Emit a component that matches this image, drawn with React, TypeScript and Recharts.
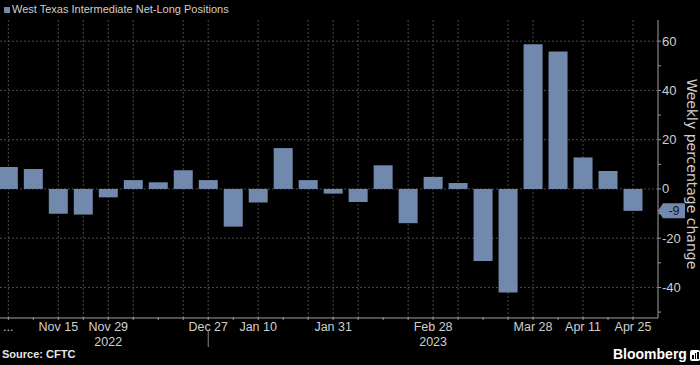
import React from 'react';
import { BarChart, Bar, XAxis, YAxis, CartesianGrid, ReferenceLine } from 'recharts';

const weeks = ['Nov 1','Nov 8','Nov 15','Nov 22','Nov 29','Dec 6','Dec 13','Dec 20','Dec 27','Jan 3','Jan 10','Jan 17','Jan 24','Jan 31','Feb 7','Feb 14','Feb 21','Feb 28','Mar 7','Mar 14','Mar 21','Mar 28','Apr 4','Apr 11','Apr 18','Apr 25'];
const values = [8.9, 8.1, -10.1, -10.4, -3.4, 3.6, 2.7, 7.6, 3.6, -15.3, -5.5, 16.6, 3.6, -1.9, -5.3, 9.6, -13.9, 4.9, 2.4, -29.3, -42.0, 58.8, 55.8, 12.8, 7.3, -8.9];
const tickIndex = [0, 2, 4, 8, 10, 13, 17, 21, 23, 25];
const tickText = ['...', 'Nov 15', 'Nov 29', 'Dec 27', 'Jan 10', 'Jan 31', 'Feb 28', 'Mar 28', 'Apr 11', 'Apr 25'];
const yearIndex = [4, 17];
const yearText = ['2022', '2023'];
const yearBreakIndex = 8;
const gridIndex = [0, 2, 3, 4, 5, 7, 8, 10, 12, 13, 14, 16, 17, 18, 20, 21, 23, 25];
const yTicks = [-50, -40, -30, -20, -10, 0, 10, 20, 30, 40, 50, 60];
const yGrid = [-40, -20, 0, 20, 40, 60];
const lastLabel = '-9';

const data = values.map((v, i) => ({ i, week: weeks[i], v }));
const allTicks = weeks.map((_, i) => i);

const BAR = '#7189ad';
const TXT = '#cfcfcf';
const FONT = '"Liberation Sans", Arial, sans-serif';

const XTick = (props: any) => {
  const { x, y, payload } = props;
  const idx = payload.value;
  const k = tickIndex.indexOf(idx);
  const yk = yearIndex.indexOf(idx);
  return (
    <g>
      <line x1={x} x2={x} y1={y - 1} y2={y + 2} stroke="#9a9a9a" strokeWidth={1} />
      {k >= 0 && (
        <text x={x} y={y + 13} textAnchor="middle" fill={TXT} fontSize={12.5} fontFamily={FONT}>
          {tickText[k]}
        </text>
      )}
      {yk >= 0 && (
        <text x={x} y={y + 28} textAnchor="middle" fill={TXT} fontSize={12.5} fontFamily={FONT}>
          {yearText[yk]}
        </text>
      )}
      {idx === yearBreakIndex && (
        <line x1={x} x2={x} y1={y + 12} y2={y + 29} stroke="#8a8a8a" strokeWidth={1} />
      )}
    </g>
  );
};

const YTick = (props: any) => {
  const { x, y, payload } = props;
  const v = payload.value;
  const major = v % 20 === 0;
  return (
    <g>
      <line x1={x} x2={x + 3} y1={y} y2={y} stroke="#9a9a9a" strokeWidth={1} />
      {major && (
        <text x={x + 4} y={y + 4.5} textAnchor="start" fill={TXT} fontSize={13} fontFamily={FONT}>
          {v}
        </text>
      )}
    </g>
  );
};

const TagLabel = (props: any) => {
  const vb = props.viewBox || {};
  const x0 = (vb.x || 0) + (vb.width || 0);
  const y0 = vb.y || 0;
  return (
    <g>
      <polygon
        points={`${x0},${y0} ${x0 + 5},${y0 - 7.5} ${x0 + 27},${y0 - 7.5} ${x0 + 27},${y0 + 7.5} ${x0 + 5},${y0 + 7.5}`}
        fill={BAR}
      />
      <text x={x0 + 16} y={y0 + 4.5} textAnchor="middle" fill="#111722" fontSize={12.5} fontFamily={FONT}>
        {lastLabel}
      </text>
    </g>
  );
};

export default function App() {
  return (
    <div style={{ position: 'fixed', left: 0, top: 0, width: 700, height: 365, background: '#000', overflow: 'hidden', fontFamily: FONT }}>
      <BarChart width={700} height={365} data={data} margin={{ top: 20, right: 0, bottom: 17, left: 0 }}>
        <CartesianGrid
          stroke="#4a4a4a"
          strokeDasharray="2 2"
          verticalValues={gridIndex}
          horizontalValues={yGrid}
        />
        <XAxis
          dataKey="i"
          type="number"
          domain={[-1 / 3, 26]}
          allowDataOverflow
          ticks={allTicks}
          interval={0}
          tick={<XTick />}
          tickLine={false}
          tickSize={0}
          tickMargin={0}
          axisLine={{ stroke: '#a0a0a0' }}
          height={30}
        />
        <YAxis
          orientation="right"
          type="number"
          domain={[-52.4, 68.6]}
          allowDataOverflow
          ticks={yTicks}
          interval={0}
          tick={<YTick />}
          tickLine={false}
          tickSize={0}
          tickMargin={0}
          axisLine={{ stroke: '#a0a0a0' }}
          width={42}
        />
        <Bar dataKey="v" fill={BAR} barSize={19} isAnimationActive={false} />
        <ReferenceLine y={values[values.length - 1]} stroke="none" ifOverflow="visible" label={<TagLabel />} />
      </BarChart>
      <div style={{ position: 'absolute', left: 4, top: 7, width: 6, height: 6, background: BAR }} />
      <div style={{ position: 'absolute', left: 12, top: 3, fontSize: 11, color: TXT, whiteSpace: 'nowrap' }}>
        West Texas Intermediate Net-Long Positions
      </div>
      <div
        style={{
          position: 'absolute',
          left: 692,
          top: 174,
          transform: 'translate(-50%, -50%) rotate(90deg)',
          fontSize: 14,
          fontFamily: '"DejaVu Sans", sans-serif',
          color: TXT,
          whiteSpace: 'nowrap',
        }}
      >
        Weekly percentage change
      </div>
      <div style={{ position: 'absolute', left: 2, top: 348, fontSize: 11, fontWeight: 'bold', color: '#e6e6e6', whiteSpace: 'nowrap' }}>
        Source: CFTC
      </div>
      <div style={{ position: 'absolute', left: 613, top: 346, fontSize: 14, fontWeight: 'bold', color: '#ffffff', whiteSpace: 'nowrap' }}>
        Bloomberg
      </div>
      <div style={{ position: 'absolute', left: 690, top: 350, width: 10, height: 11, background: '#ffffff', borderRadius: 2 }}>
        <div style={{ position: 'absolute', left: 2, top: 5, width: 1.5, height: 4, background: '#000' }} />
        <div style={{ position: 'absolute', left: 4.5, top: 3, width: 1.5, height: 6, background: '#000' }} />
        <div style={{ position: 'absolute', left: 7, top: 2, width: 1.5, height: 7, background: '#000' }} />
      </div>
    </div>
  );
}
